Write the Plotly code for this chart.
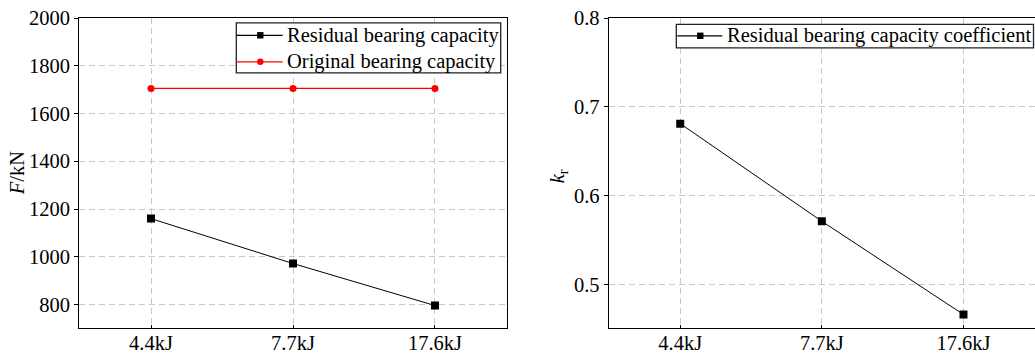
import plotly.graph_objects as go

categories = ["4.4kJ", "7.7kJ", "17.6kJ"]
residual_capacity = [1160, 972, 796]
original_capacity = [1705, 1705, 1705]
residual_coefficient = [0.681, 0.571, 0.466]

series_names_left = ["Residual bearing capacity", "Original bearing capacity"]
series_name_right = "Residual bearing capacity coefficient"

W, H = 1035, 353
FONT = "Liberation Serif"
FS = 20.5
plot_top, plot_bot = 17.7, 327.7
ph = plot_bot - plot_top


def px(x):
    return x / W


def py(y):
    return 1 - (y - plot_top) / ph


fig = go.Figure()

fig.add_trace(go.Scatter(
    x=categories, y=residual_capacity, name=series_names_left[0],
    mode="lines+markers", line=dict(color="black", width=1),
    marker=dict(symbol="square", size=8, color="black"),
    xaxis="x", yaxis="y", showlegend=False))
fig.add_trace(go.Scatter(
    x=categories, y=original_capacity, name=series_names_left[1],
    mode="lines+markers", line=dict(color="red", width=1.2),
    marker=dict(symbol="circle", size=7, color="red"),
    xaxis="x", yaxis="y", showlegend=False))
fig.add_trace(go.Scatter(
    x=categories, y=residual_coefficient, name=series_name_right,
    mode="lines+markers", line=dict(color="black", width=1),
    marker=dict(symbol="square", size=8, color="black"),
    xaxis="x2", yaxis="y2", showlegend=False))

common_axis = dict(
    showline=True, linecolor="black", linewidth=1.2, mirror=True,
    tickcolor="black", tickwidth=1,
    showgrid=True, gridcolor="#c8c8c8", gridwidth=1, griddash="6px,4px",
    zeroline=False, tickfont=dict(family=FONT, size=FS, color="black"),
    automargin=False,
)
xaxis_extra = dict(ticks="inside", ticklen=3, ticklabelstandoff=-4)
yaxis_extra = dict(ticks="outside", ticklen=4)

fig.update_layout(
    width=W, height=H,
    margin=dict(l=0, r=0, t=plot_top, b=H - plot_bot),
    paper_bgcolor="white", plot_bgcolor="white",
    font=dict(family=FONT, size=FS, color="black"),
    showlegend=False,
    xaxis=dict(domain=[79.3 / W, 506.7 / W], range=[-0.505, 2.505], type="category",
               anchor="y", **common_axis, **xaxis_extra),
    yaxis=dict(domain=[0, 1], range=[702, 2000], tickvals=[800, 1000, 1200, 1400, 1600, 1800, 2000],
               anchor="x", **common_axis, **yaxis_extra),
    xaxis2=dict(domain=[608.7 / W, 1.0], range=[-0.505, 2.505], type="category",
                anchor="y2", **common_axis, **xaxis_extra),
    yaxis2=dict(domain=[0, 1], range=[0.4508, 0.8], tickvals=[0.5, 0.6, 0.7, 0.8],
                tickformat=".1f", anchor="x2", **common_axis, **yaxis_extra),
)


def legend_box(x0, x1, y0, y1):
    fig.add_shape(type="rect", xref="paper", yref="paper",
                  x0=px(x0), x1=px(x1), y0=py(y0), y1=py(y1),
                  line=dict(color="#222222", width=1.3), fillcolor="white", layer="above")


def legend_item(name, color, symbol, xl0, xl1, xm, yc, xt):
    fig.add_shape(type="line", xref="paper", yref="paper",
                  x0=px(xl0), x1=px(xl1), y0=py(yc), y1=py(yc),
                  line=dict(color=color, width=1.2), layer="above")
    s = 3.2
    fig.add_shape(type="rect" if symbol == "square" else "circle", xref="paper", yref="paper",
                  x0=px(xm - s), x1=px(xm + s), y0=py(yc + s), y1=py(yc - s),
                  line=dict(color=color, width=0), fillcolor=color, layer="above")
    fig.add_annotation(text=name, xref="paper", yref="paper", x=px(xt), y=py(yc),
                       xanchor="left", yanchor="middle", showarrow=False,
                       font=dict(family=FONT, size=FS, color="black"))


legend_box(236.3, 500.7, 22.5, 72.5)
legend_item(series_names_left[0], "black", "square", 236.3, 282.7, 260.3, 35, 285)
legend_item(series_names_left[1], "red", "circle", 236.3, 282.7, 260.3, 61.5, 285)

legend_box(676.3, 1033.5, 24, 47.5)
legend_item(series_name_right, "black", "square", 677.3, 722.3, 700.3, 35.5, 725)

fig.add_annotation(text="<i>F</i>/kN", xref="paper", yref="paper",
                   x=px(17), y=py(173), textangle=-90,
                   showarrow=False, font=dict(family=FONT, size=FS, color="black"),
                   xanchor="center", yanchor="middle")
fig.add_annotation(text="<i>k</i><sub>r</sub>", xref="paper", yref="paper",
                   x=px(558), y=py(176), textangle=-90,
                   showarrow=False, font=dict(family=FONT, size=FS, color="black"),
                   xanchor="center", yanchor="middle")

fig.write_html("out.html", config={"displayModeBar": False},
               post_script="document.body.style.margin='0';document.body.style.overflow='hidden';")
